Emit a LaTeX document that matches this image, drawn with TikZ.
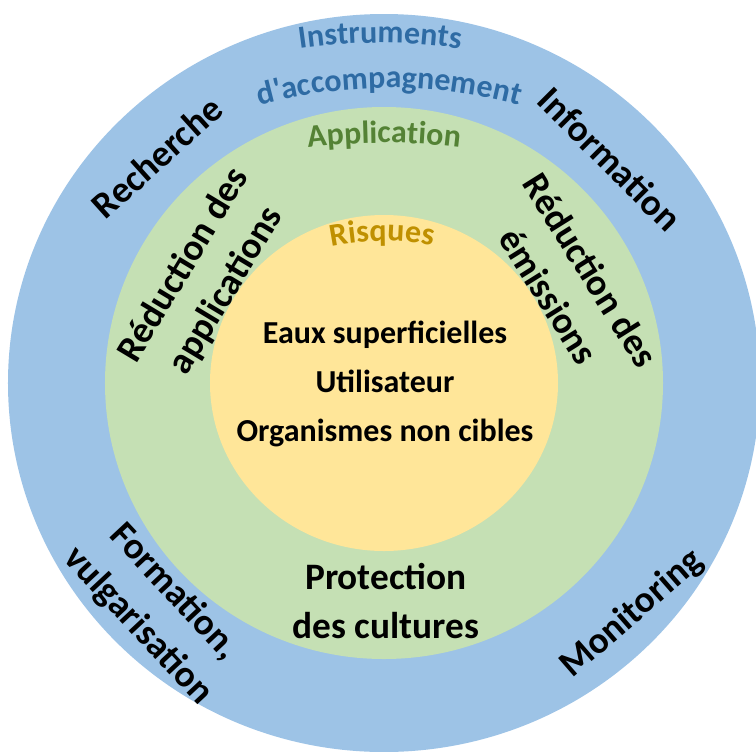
\documentclass[tikz,border=0pt]{standalone}
\usepackage{fontspec}
\setmainfont{Carlito}
\usepackage{tikz}
\usetikzlibrary{decorations.text}
\definecolor{outerRing}{HTML}{9DC3E6}
\definecolor{middleRing}{HTML}{C5E0B4}
\definecolor{innerRing}{HTML}{FFE699}
\definecolor{outerText}{HTML}{2E6BA4}
\definecolor{middleText}{HTML}{548235}
\definecolor{innerText}{HTML}{BF9000}

\begin{document}
\begin{tikzpicture}[
  x=0.75pt,
  y=0.75pt,
  ring label/.style={
    font=\fontsize{28}{37}\selectfont\bfseries,
    align=center,
    inner sep=0pt,
  },
  core label/.style={
    font=\fontsize{24}{36.75}\selectfont\bfseries,
    align=center,
    inner sep=0pt,
  },
  curved title/.style 2 args={
    decorate,
    decoration={
      text along path,
      text align=center,
      text color=#1,
      text={|\fontsize{24}{28}\selectfont\bfseries|#2},
    },
  },
]
\useasboundingbox (-384,-368) rectangle (372,383);
% the three rings
\fill[outerRing] (0,0) ellipse[x radius=376, y radius=369];
\fill[middleRing] (0,0) ellipse[x radius=279, y radius=276];
\fill[innerRing] (0,0) ellipse[x radius=174, y radius=168];
% ring titles
\path[curved title={outerText}{Instruments}]
  ([shift={(104:560)}]-4,-220) arc[start angle=104, end angle=76, radius=560];
\path[curved title={outerText}{d{\textquotesingle}accompagnement}]
  ([shift={(115:500)}]5,-205) arc[start angle=115, end angle=65, radius=500];
\path[curved title={middleText}{Application}]
  ([shift={(100:600)}]0,-360) arc[start angle=100, end angle=80, radius=600];
\path[curved title={innerText}{Risques}]
  ([shift={(115:250)}]-2,-108) arc[start angle=115, end angle=65, radius=250];
% outer ring
\node[ring label, rotate=42] (recherche) at (-227,226) {Recherche};
\node[ring label, rotate=-45] (information) at (226,224) {Information};
\node[ring label, rotate=-47] (formation) at (-228,-226) {Formation,\\vulgarisation};
\node[ring label, rotate=41] (monitoring) at (248,-231) {Monitoring};
% middle ring
\node[ring label, rotate=59] (reducApp) at (-179,105) {Réduction des\\applications};
\node[ring label, rotate=-58] (reducEmi) at (186,100) {Réduction des\\émissions};
\node[ring label] (protection) at (2,-218) {Protection\\des cultures};
% core
\node[core label] (cibles) at (1,-1) {Eaux superficielles\\Utilisateur\\Organismes non cibles};
\end{tikzpicture}
\end{document}
